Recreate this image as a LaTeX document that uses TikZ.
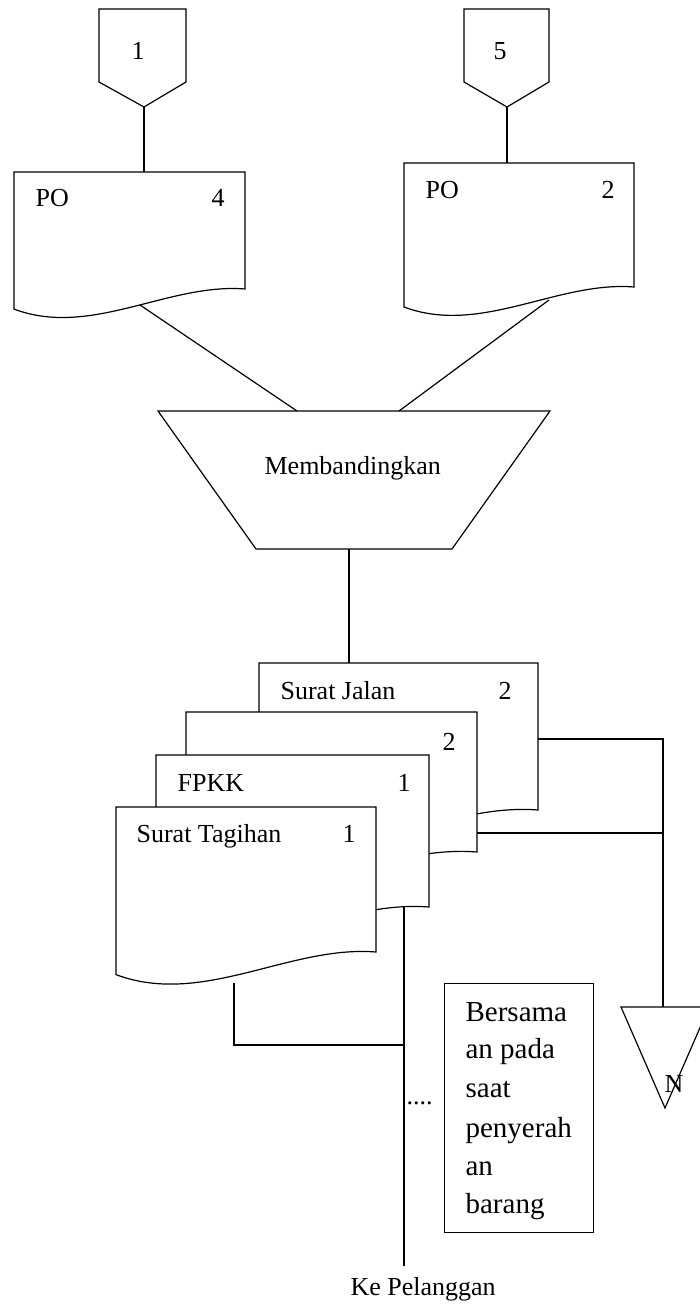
\documentclass[tikz,border=0pt]{standalone}
\usepackage{fontspec}
\setmainfont{Liberation Serif}

% document symbol with a wavy lower edge: name, left, top, width, height
\newcommand{\docshape}[5]{%
  \draw[outline] (#2,#3) coordinate (#1-nw)
    -- ({#2+#4},#3) coordinate (#1-ne)
    -- ({#2+#4},{#3+#5}) coordinate (#1-se)
    .. controls ({#2+0.667*#4},{#3+#5-0.027*#4}) and ({#2+0.333*#4},{#3+#5+0.212*#4})
    .. ({#2},{#3+#5+0.087*#4}) coordinate (#1-sw)
    -- cycle;}

\begin{document}
\begin{tikzpicture}[x=1pt, y=-1pt, line width=1.2pt, line join=miter,
  outline/.style={draw=black, fill=white, line width=1.2pt},
  link/.style={draw=black, line width=1.2pt},
  lbl/.style={inner sep=0pt, anchor=base west, font=\fontsize{26}{31}\selectfont},
  notetxt/.style={inner sep=0pt, anchor=base west, font=\fontsize{29}{38}\selectfont}]
\useasboundingbox (0,0) rectangle (699,1305);

% off-page connectors
\draw[outline] (99,9) -- (186,9) -- (186,82) -- (144,107) coordinate (c1-tip) -- (99,82) -- cycle;
\node[lbl] (c1-lbl) at (131,60) {1};
\draw[outline] (464,9) -- (549,9) -- (549,82) -- (507,107) coordinate (c5-tip) -- (464,82) -- cycle;
\node[lbl] (c5-lbl) at (493,60) {5};

% purchase orders
\docshape{po4}{14}{172}{231}{117}
\node[lbl] (po4-t) at (35,207) {PO};
\node[lbl] (po4-n) at (211,207) {4};
\docshape{po5}{404}{163}{230}{124}
\node[lbl] (po5-t) at (425,199) {PO};
\node[lbl] (po5-n) at (601,199) {2};

\draw[link] (c1-tip) -- (c1-tip |- po4-nw);
\draw[link] (c5-tip) -- (c5-tip |- po5-nw);

% compare step
\draw[outline] (158,411) coordinate (cmp-tl) -- (550,411) coordinate (cmp-tr)
  -- (452,549) coordinate (cmp-br) -- (256,549) coordinate (cmp-bl) -- cycle;
\node[lbl] (cmp-lbl) at (264,474) {Membandingkan};
\coordinate (po4-out) at (140,305);
\coordinate (po5-out) at (549,300);
\coordinate (cmp-in1) at (297,411);
\coordinate (cmp-in2) at (399,411);
\coordinate (cmp-out) at (349,549);
\draw[link] (po4-out) -- (cmp-in1);
\draw[link] (po5-out) -- (cmp-in2);

% output documents
\docshape{sj}{259}{663}{279}{147}
\node[lbl] (sj-t) at (280,699) {Surat Jalan};
\node[lbl] (sj-n) at (498,699) {2};
\docshape{cp}{186}{712}{291}{140}
\node[lbl] (cp-n) at (442,750) {2};
\docshape{fp}{156}{755}{273}{152}
\node[lbl] (fp-t) at (177,791) {FPKK};
\node[lbl] (fp-n) at (397,791) {1};
\docshape{st}{116}{807}{260}{145}
\node[lbl] (st-t) at (136,842) {Surat Tagihan};
\node[lbl] (st-n) at (342,842) {1};

\draw[link] (cmp-out) -- (cmp-out |- sj-nw);

% file symbol
\draw[outline] (621,1007) coordinate (n-tl) -- (709,1007) -- (665,1108) coordinate (n-tip) -- cycle;
\coordinate (n-in) at (663,1007);
\node[lbl] (n-lbl) at (664,1092) {N};

\coordinate (sj-out) at (538,739);
\coordinate (cp-out) at (477,833);
\draw[link] (sj-out) -| (n-in);
\draw[link] (cp-out) -- (cp-out -| n-in);

% to the customer
\coordinate (fp-out) at (404,907);
\coordinate (cust) at (404,1266);
\coordinate (st-out) at (234,983);
\draw[link] (fp-out) -- (cust);
\draw[link] (st-out) |- (404,1045);
\node[lbl] (cust-lbl) at (350,1295) {Ke Pelanggan};

% note
\node[lbl] (dots) at (406,1104) {....};
\node[draw=black, line width=1.2pt, minimum width=149pt, minimum height=249pt,
      inner sep=0pt, anchor=north west] (note) at (444,983) {};
\foreach \t/\b [count=\i] in {Bersama/1021, an pada/1058, saat/1097,
                              penyerah/1137, an/1175, barang/1213}
  \node[notetxt] (note-l\i) at (465,\b) {\t};
\end{tikzpicture}
\end{document}
